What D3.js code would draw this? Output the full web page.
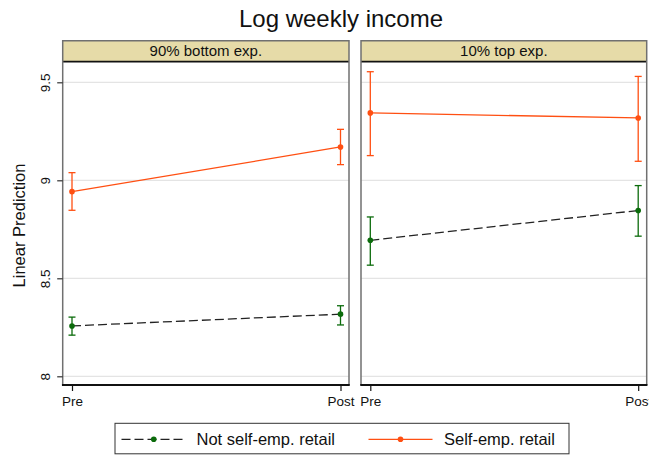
<!DOCTYPE html>
<html>
<head>
<meta charset="utf-8">
<script src="https://cdn.jsdelivr.net/npm/d3@7"></script>
<style>
  html, body { margin: 0; padding: 0; background: #fff; }
  svg { display: block; font-family: "Liberation Sans", Arial, sans-serif; }
</style>
</head>
<body>
<svg id="chart" width="649" height="455"></svg>
<script>
// Panels (exposure groups) and periods
const panels = ["90% bottom exp.", "10% top exp."];
const periods = ["Pre", "Post"];
const yTicks = [8, 8.5, 9, 9.5];

// Series names
const seriesNames = ["Not self-emp. retail", "Self-emp. retail"];

// Linear predictions per panel: [Pre, Post]
const notSelfEmp      = [[8.257, 8.317], [8.694, 8.846]];
const notSelfEmpLo    = [[8.210, 8.262], [8.567, 8.715]];
const notSelfEmpHi    = [[8.302, 8.360], [8.813, 8.973]];
const selfEmp         = [[8.942, 9.170], [9.344, 9.318]];
const selfEmpLo       = [[8.847, 9.080], [9.126, 9.097]];
const selfEmpHi       = [[9.039, 9.260], [9.554, 9.530]];

const colorGreen = "#0b6b0b";
const colorOrange = "#ff4f12";

const svg = d3.select("#chart");

// Layout
const panelX = [[62.7, 349], [361, 646.7]];
const stripTop = 40.7, stripBot = 61.7, plotBot = 385;
const y = d3.scaleLinear().domain([8, 9.5]).range([376.3, 82.3]);

// Title
svg.append("text")
  .attr("x", 341).attr("y", 27)
  .attr("text-anchor", "middle")
  .attr("font-size", 24)
  .attr("fill", "#111")
  .text("Log weekly income");

// Y axis title
svg.append("text")
  .attr("transform", "translate(25,225.5) rotate(-90)")
  .attr("text-anchor", "middle")
  .attr("font-size", 16.5)
  .attr("fill", "#111")
  .text("Linear Prediction");

const series = [
  { name: seriesNames[0], v: notSelfEmp, lo: notSelfEmpLo, hi: notSelfEmpHi, color: colorGreen, dash: "9,4", lineColor: "#222" },
  { name: seriesNames[1], v: selfEmp, lo: selfEmpLo, hi: selfEmpHi, color: colorOrange, dash: null, lineColor: colorOrange }
];

panels.forEach((label, p) => {
  const [x0, x1] = panelX[p];
  const x = d3.scalePoint().domain(periods).range([x0 + 9.3, x1 - 8.5]);
  const g = svg.append("g");

  // Plot background
  g.append("rect")
    .attr("x", x0).attr("y", stripBot)
    .attr("width", x1 - x0).attr("height", plotBot - stripBot)
    .attr("fill", "#fff");

  // Gridlines
  g.selectAll(".grid").data(yTicks).join("line")
    .attr("x1", x0).attr("x2", x1)
    .attr("y1", d => y(d)).attr("y2", d => y(d))
    .attr("stroke", "#e4e4e4").attr("stroke-width", 1.3);

  // Strip
  g.append("rect")
    .attr("x", x0).attr("y", stripTop)
    .attr("width", x1 - x0).attr("height", stripBot - stripTop)
    .attr("fill", "#e6dba8");
  g.append("line")
    .attr("x1", x0).attr("x2", x1)
    .attr("y1", stripBot).attr("y2", stripBot)
    .attr("stroke", "#111").attr("stroke-width", 1.8);
  g.append("text")
    .attr("x", (x0 + x1) / 2).attr("y", 56)
    .attr("text-anchor", "middle")
    .attr("font-size", 15)
    .attr("fill", "#111")
    .text(label);

  // Panel frame
  g.append("path")
    .attr("d", `M${x0},${plotBot}V${stripTop}H${x1}V${plotBot}`)
    .attr("fill", "none").attr("stroke", "#707070").attr("stroke-width", 1.5);

  // Series
  series.forEach(s => {
    const pts = periods.map((per, i) => ({ per, v: s.v[p][i], lo: s.lo[p][i], hi: s.hi[p][i] }));
    // Connecting line
    g.append("path")
      .datum(pts)
      .attr("d", d3.line().x(d => x(d.per)).y(d => y(d.v)))
      .attr("fill", "none")
      .attr("stroke", s.lineColor)
      .attr("stroke-width", 1.3)
      .attr("stroke-dasharray", s.dash);
    // Confidence intervals
    const ci = g.selectAll(null).data(pts).join("g");
    ci.append("line")
      .attr("x1", d => x(d.per)).attr("x2", d => x(d.per))
      .attr("y1", d => y(d.lo)).attr("y2", d => y(d.hi))
      .attr("stroke", s.color).attr("stroke-width", 1.3);
    ci.append("line")
      .attr("x1", d => x(d.per) - 3.5).attr("x2", d => x(d.per) + 3.5)
      .attr("y1", d => y(d.lo)).attr("y2", d => y(d.lo))
      .attr("stroke", s.color).attr("stroke-width", 1.3);
    ci.append("line")
      .attr("x1", d => x(d.per) - 3.5).attr("x2", d => x(d.per) + 3.5)
      .attr("y1", d => y(d.hi)).attr("y2", d => y(d.hi))
      .attr("stroke", s.color).attr("stroke-width", 1.3);
    // Markers
    g.selectAll(null).data(pts).join("circle")
      .attr("cx", d => x(d.per)).attr("cy", d => y(d.v))
      .attr("r", 2.8).attr("fill", s.color);
  });

  // X axis
  const xAxis = g.append("g")
    .attr("transform", `translate(0,${plotBot})`)
    .call(d3.axisBottom(x).tickSize(6).tickPadding(5).tickSizeOuter(0));
  xAxis.select(".domain").remove();
  xAxis.selectAll(".tick line").attr("stroke", "#111").attr("stroke-width", 1.2);
  xAxis.selectAll(".tick text")
    .attr("font-size", 13.5)
    .attr("font-family", "Liberation Sans, Arial, sans-serif")
    .attr("fill", "#111");
  g.append("line")
    .attr("x1", x0 - 0.75).attr("x2", x1 + 0.75)
    .attr("y1", plotBot).attr("y2", plotBot)
    .attr("stroke", "#111").attr("stroke-width", 2);

  // Y axis on the first panel only
  if (p === 0) {
    const yAxis = g.append("g")
      .attr("transform", `translate(${x0},0)`)
      .call(d3.axisLeft(y).tickValues(yTicks).tickFormat(d3.format("~g")).tickSize(5.5).tickPadding(0));
    yAxis.select(".domain").remove();
    yAxis.selectAll(".tick line").attr("stroke", "#333").attr("stroke-width", 1.2);
    yAxis.selectAll(".tick text")
      .attr("x", null).attr("dy", null)
      .attr("text-anchor", "middle")
      .attr("transform", "translate(-12.5,0) rotate(-90)")
      .attr("font-size", 13.5)
      .attr("font-family", "Liberation Sans, Arial, sans-serif")
      .attr("fill", "#111");
  }
});

// Legend
const leg = svg.append("g");
leg.append("rect")
  .attr("x", 115).attr("y", 423.3)
  .attr("width", 454).attr("height", 30.5)
  .attr("fill", "#fff").attr("stroke", "#333").attr("stroke-width", 1);

const legendKeys = [
  { x0: 121.5, x1: 186, tx: 196.5 },
  { x0: 368.5, x1: 432.5, tx: 444 }
];
series.forEach((s, i) => {
  const k = legendKeys[i];
  const ly = 439.3;
  leg.append("line")
    .attr("x1", k.x0).attr("x2", k.x1)
    .attr("y1", ly).attr("y2", ly)
    .attr("stroke", s.lineColor).attr("stroke-width", 1.3)
    .attr("stroke-dasharray", s.dash);
  leg.append("circle")
    .attr("cx", (k.x0 + k.x1) / 2).attr("cy", ly)
    .attr("r", 2.8).attr("fill", s.color);
  leg.append("text")
    .attr("x", k.tx).attr("y", 445.3)
    .attr("font-size", 16.5)
    .attr("fill", "#111")
    .text(s.name);
});
</script>
</body>
</html>
